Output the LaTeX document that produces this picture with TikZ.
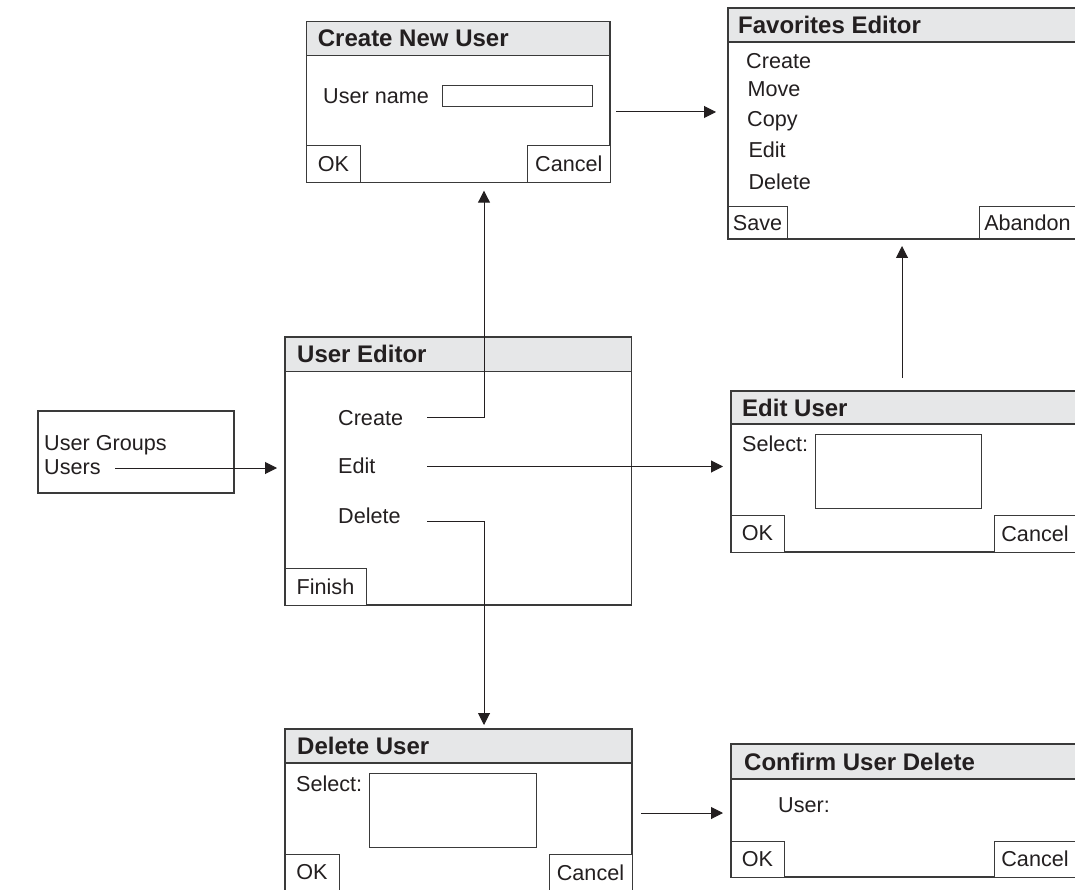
\documentclass[tikz,border=0pt]{standalone}
\usepackage{fontspec}
\setmainfont{Liberation Sans}
\usetikzlibrary{arrows.meta}
\definecolor{framec}{HTML}{3A3A3A}
\definecolor{barfill}{HTML}{E6E7E8}
\definecolor{inkc}{HTML}{231F20}
\tikzset{
 win/.style={draw=framec, line width=1.2pt, fill=white, inner sep=0pt, outer sep=0pt, anchor=north west},
 bar/.style={draw=framec, line width=1.2pt, fill=barfill, inner sep=0pt, outer sep=0pt, anchor=north west},
 ttl/.style={font=\fontsize{24}{28}\selectfont\bfseries, text=inkc, inner sep=0pt, anchor=west},
 txt/.style={font=\fontsize{21.6}{26}\selectfont, text=inkc, inner sep=0pt, anchor=base west},
 btn/.style={draw=framec, line width=1pt, fill=white, inner sep=0pt, outer sep=0pt, text=inkc, font=\fontsize{21.6}{26}\selectfont},
 field/.style={draw=framec, line width=1pt, inner sep=0pt, outer sep=0pt, anchor=north west},
 conn/.style={draw=inkc, line width=1pt, -{Triangle[length=12pt,width=12pt]}},
}
\begin{document}
\begin{tikzpicture}[x=1pt,y=-1pt]
\useasboundingbox (0,0) rectangle (1075,890);

% Create New User
\node[win, minimum width=303.3pt, minimum height=161pt] (cnu) at (306.7,21.7) {};
\node[bar, minimum width=303.3pt, minimum height=34pt] (cnubar) at (cnu.north west) {};
\node[ttl] (cnutitle) at ([xshift=11pt]cnubar.west) {Create New User};
\node[txt] (cnuname) at (323,104) {User name};
\node[field, minimum width=150pt, minimum height=21pt] (cnufield) at (442.7,85.7) {};
\node[btn, anchor=south west, minimum width=53.3pt, minimum height=37pt] (cnuok) at (cnu.south west) {OK};
\node[btn, anchor=south east, minimum width=82.3pt, minimum height=37pt] (cnucancel) at (cnu.south east) {Cancel};

% Favorites Editor
\node[win, minimum width=348pt, minimum height=231pt] (fav) at (728,8) {};
\node[bar, minimum width=348pt, minimum height=34pt] (favbar) at (fav.north west) {};
\node[ttl] (favtitle) at ([xshift=10pt]favbar.west) {Favorites Editor};
\node[txt] (favcreate) at (746,69) {Create};
\node[txt] (favmove) at (747.3,97) {Move};
\node[txt] (favcopy) at (747,127) {Copy};
\node[txt] (favedit) at (748.3,158) {Edit};
\node[txt] (favdelete) at (748.3,190) {Delete};
\node[btn, anchor=south west, minimum width=59pt, minimum height=32pt] (favsave) at (fav.south west) {Save};
\node[btn, anchor=south east, minimum width=97pt, minimum height=32pt] (favabandon) at (fav.south east) {Abandon};

% User Editor
\node[win, minimum width=346.7pt, minimum height=268pt] (ue) at (285,337) {};
\node[bar, minimum width=346.7pt, minimum height=34.7pt] (uebar) at (ue.north west) {};
\node[ttl] (uetitle) at ([xshift=12pt]uebar.west) {User Editor};
\node[txt] (uecreate) at (338,425) {Create};
\node[txt] (ueedit) at (338,473.3) {Edit};
\node[txt] (uedelete) at (338,523.3) {Delete};
\node[btn, anchor=south west, minimum width=81pt, minimum height=37pt] (uefinish) at (ue.south west) {Finish};

% User Groups box
\node[win, minimum width=196pt, minimum height=82pt] (ug) at (38,411) {};
\node[txt] (uggroups) at (44,450) {User Groups};
\node[txt] (ugusers) at (44,474) {Users};

% Edit User
\node[win, minimum width=345pt, minimum height=161pt] (eu) at (731,391) {};
\node[bar, minimum width=345pt, minimum height=33pt] (eubar) at (eu.north west) {};
\node[ttl] (eutitle) at ([xshift=11pt]eubar.west) {Edit User};
\node[txt] (euselect) at (742,451.7) {Select:};
\node[field, minimum width=166pt, minimum height=74pt] (eufield) at (815,434) {};
\node[btn, anchor=south west, minimum width=53pt, minimum height=37pt] (euok) at (eu.south west) {OK};
\node[btn, anchor=south east, minimum width=82pt, minimum height=37pt] (eucancel) at (eu.south east) {Cancel};

% Delete User
\node[win, minimum width=347pt, minimum height=162pt] (du) at (285,729) {};
\node[bar, minimum width=347pt, minimum height=34pt] (dubar) at (du.north west) {};
\node[ttl] (dutitle) at ([xshift=12pt]dubar.west) {Delete User};
\node[txt] (duselect) at (296,791.7) {Select:};
\node[field, minimum width=167pt, minimum height=74pt] (dufield) at (369,773) {};
\node[btn, anchor=south west, minimum width=54pt, minimum height=37pt] (duok) at (du.south west) {OK};
\node[btn, anchor=south east, minimum width=83pt, minimum height=37pt] (ducancel) at (du.south east) {Cancel};

% Confirm User Delete
\node[win, minimum width=345pt, minimum height=133pt] (cu) at (731,744) {};
\node[bar, minimum width=345pt, minimum height=35pt] (cubar) at (cu.north west) {};
\node[ttl] (cutitle) at ([xshift=13pt]cubar.west) {Confirm User Delete};
\node[txt] (cuuser) at (778,812.7) {User:};
\node[btn, anchor=south west, minimum width=53pt, minimum height=36pt] (cuok) at (cu.south west) {OK};
\node[btn, anchor=south east, minimum width=82pt, minimum height=36pt] (cucancel) at (cu.south east) {Cancel};

% connectors
\coordinate (ugs) at (115,468);
\draw[conn, shorten >=8pt] (ugs) -- (ugs -| ue.west);

\coordinate (cs) at (427,417.3);
\coordinate (cb) at (484,417.3);
\draw[conn, shorten >=8pt] (cs) -- (cb) -- (cb |- cnu.south);

\coordinate (es) at (427,466.5);
\draw[conn, shorten >=8pt] (es) -- (es -| eu.west);

\coordinate (ds) at (427,521);
\coordinate (db) at (484,521);
\draw[conn, shorten >=4pt] (ds) -- (db) -- (db |- du.north);

\coordinate (cf) at (616,112);
\draw[conn, shorten >=12pt] (cf) -- (cf -| fav.west);

\coordinate (ef) at (902,378);
\draw[conn, shorten >=7pt] (ef) -- (ef |- fav.south);

\coordinate (dc) at (641,813);
\draw[conn, shorten >=8pt] (dc) -- (dc -| cu.west);
\end{tikzpicture}
\end{document}
